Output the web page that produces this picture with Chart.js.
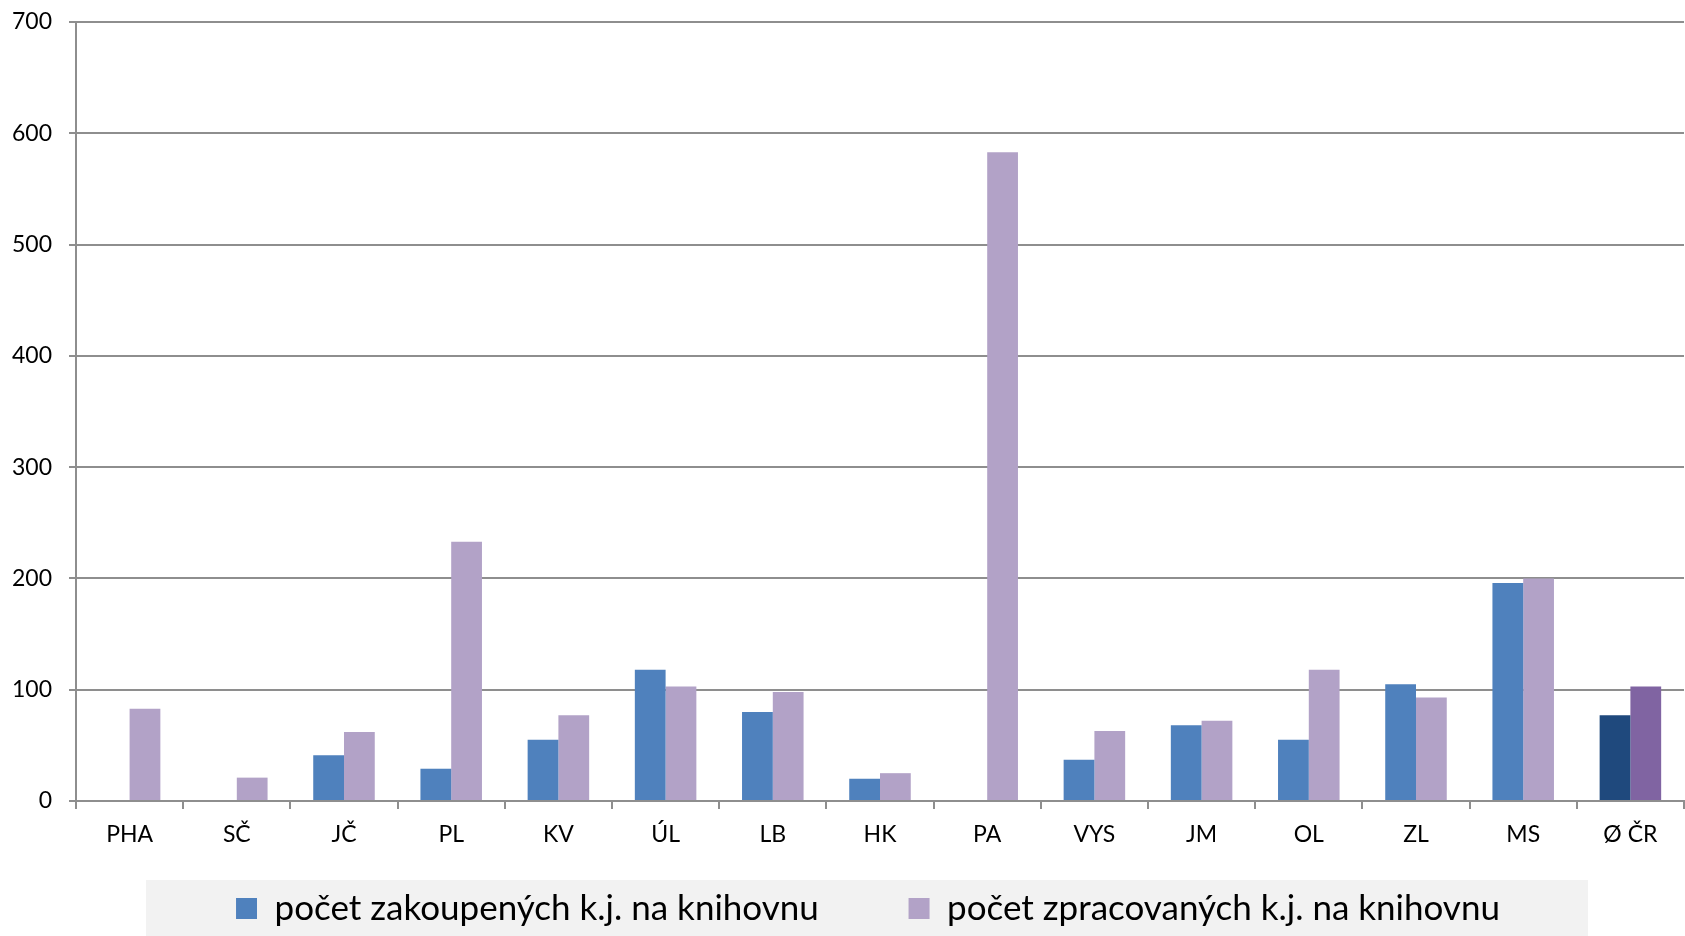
<!DOCTYPE html>
<html>
<head>
<meta charset="utf-8">
<script src="https://cdn.jsdelivr.net/npm/chart.js@4.4.1/dist/chart.umd.min.js"></script>
<style>
html, body { margin: 0; padding: 0; background: #fff; }
#wrap { width: 1685px; height: 936px; position: relative; }
</style>
</head>
<body>
<div id="wrap"><canvas id="chart"></canvas></div>
<script>
// kraje + průměr ČR
var regions = ['PHA', 'SČ', 'JČ', 'PL', 'KV', 'ÚL', 'LB', 'HK', 'PA', 'VYS', 'JM', 'OL', 'ZL', 'MS', 'Ø ČR'];
var purchased = [null, null, 41, 29, 55, 118, 80, 20, null, 37, 68, 55, 105, 196, 77];
var processed = [83, 21, 62, 233, 77, 103, 98, 25, 583, 63, 72, 118, 93, 200, 103];
var seriesNames = ['počet zakoupených k.j. na knihovnu', 'počet zpracovaných k.j. na knihovnu'];
var yMin = 0, yMax = 700, yStep = 100;

var gridColor = '#8e8e8e';
var legendShift = 26;
Chart.defaults.font.family = 'Lato';
Chart.defaults.color = '#000';

// poslední sloupec (průměr) je tmavší
function barColor(normal, avg) {
    return function(ctx) {
        return ctx.dataIndex === regions.length - 1 ? avg : normal;
    };
}

// legenda trochu doprava + šedé pozadí pod ní
var legendBg = {
    id: 'legendBg',
    afterUpdate: function(chart) {
        var lg = chart.legend;
        if (!lg) return;
        lg.left += legendShift;
        lg.right += legendShift;
        lg.adjustHitBoxes();
    },
    beforeDraw: function(chart) {
        var lg = chart.legend;
        if (!lg || !lg.legendHitBoxes || !lg.legendHitBoxes.length) return;
        var boxes = lg.legendHitBoxes;
        var first = boxes[0], last = boxes[boxes.length - 1];
        var ctx = chart.ctx;
        ctx.save();
        ctx.fillStyle = '#f2f2f2';
        ctx.fillRect(first.left - 90, lg.top, last.left + last.width - first.left + 178, lg.bottom - lg.top);
        ctx.restore();
    }
};

var ctx = document.getElementById('chart').getContext('2d');
var chart = new Chart(ctx, {
    type: 'bar',
    data: {
        labels: regions,
        datasets: [{
            label: seriesNames[0],
            data: purchased,
            backgroundColor: barColor('#4f81bd', '#1f497d')
        }, {
            label: seriesNames[1],
            data: processed,
            backgroundColor: barColor('#b2a2c7', '#8064a2')
        }]
    },
    options: {
        responsive: true,
        maintainAspectRatio: false,
        animation: false,
        categoryPercentage: 0.574,
        barPercentage: 1,
        layout: {
            padding: { top: 22, right: 1, left: 0, bottom: 0 }
        },
        scales: {
            x: {
                grid: {
                    offset: true,
                    drawOnChartArea: false,
                    drawTicks: true,
                    tickLength: 8,
                    lineWidth: 2,
                    color: gridColor
                },
                border: { color: gridColor, width: 2 },
                ticks: { font: { size: 23 }, padding: 12, color: '#000' },
                afterFit: function(s) { s.height = 79; }
            },
            y: {
                min: yMin,
                max: yMax,
                ticks: { stepSize: yStep, font: { size: 23 }, padding: 17, color: '#000' },
                grid: { color: gridColor, tickLength: 7, lineWidth: 2 },
                border: { color: gridColor, width: 2 },
                afterFit: function(s) {
                    s.width = 76;
                    s.paddingTop = 0;
                    s.paddingBottom = 0;
                }
            }
        },
        plugins: {
            legend: {
                position: 'bottom',
                labels: {
                    font: { size: 35 },
                    color: '#000',
                    boxWidth: 21,
                    boxHeight: 21,
                    padding: 11,
                    generateLabels: function(chart) {
                        var items = Chart.defaults.plugins.legend.labels.generateLabels(chart);
                        for (var i = 0; i < items.length - 1; i++) {
                            items[i].text = items[i].text + '\u2003\u2003\u2003';
                        }
                        return items;
                    }
                }
            },
            tooltip: { enabled: false }
        }
    },
    plugins: [legendBg]
});
</script>
</body>
</html>
